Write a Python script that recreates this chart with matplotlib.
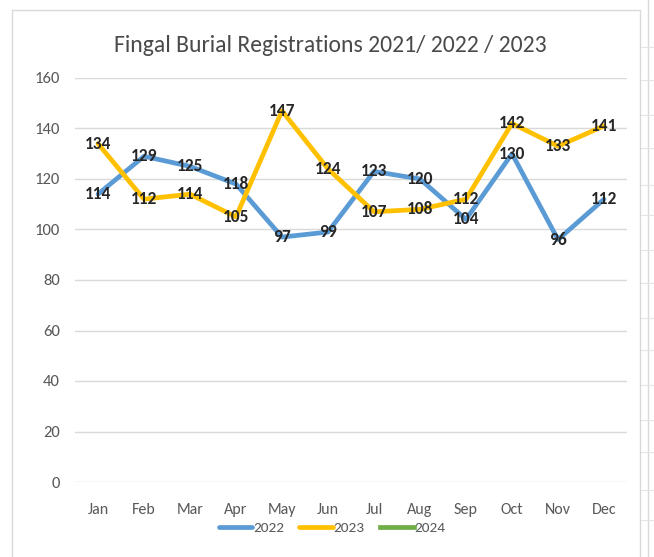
import matplotlib.pyplot as plt
from matplotlib.patches import Rectangle
from matplotlib.lines import Line2D

# ------------------ DATA ------------------

months = ['Jan', 'Feb', 'Mar', 'Apr', 'May', 'Jun', 'Jul', 'Aug', 'Sep', 'Oct', 'Nov', 'Dec']
reg_2022 = [114, 129, 125, 118, 97, 99, 123, 120, 104, 130, 96, 112]
reg_2023 = [134, 112, 114, 105, 147, 124, 107, 108, 112, 142, 133, 141]
reg_2024 = []
yticks = [0, 20, 40, 60, 80, 100, 120, 140, 160]

c2022 = '#5B9BD5'
c2023 = '#FFC000'
c2024 = '#70AD47'
grey = '#595959'

plt.rcParams['font.family'] = ['Carlito', 'DejaVu Sans']

fig = plt.figure(figsize=(6.54, 5.57), dpi=100)

# chart area border (excel style) and sheet gridlines on the right
fig.patches.append(Rectangle((12/654, -0.05), (640-12)/654, 1 - 10/557 + 0.05,
                             transform=fig.transFigure, fill=False,
                             edgecolor='#D9D9D9', lw=1))
fig.add_artist(Line2D([648/654, 648/654], [0, 1], transform=fig.transFigure,
                      color='#D9D9D9', lw=1))
for yy in [47, 80, 115, 148, 185, 215, 250, 283, 318, 350, 385, 420, 452, 490, 520]:
    fig.add_artist(Line2D([641/654, 654/654], [1 - yy/557, 1 - yy/557],
                          transform=fig.transFigure, color='#E4E4E4', lw=0.8))

ax = fig.add_axes([75/654, 1 - 482/557, (627-75)/654, (482-78)/557])
x = range(len(months))

ax.plot(x, reg_2022, color=c2022, lw=3.4, solid_capstyle='round', label='2022')
ax.plot(x, reg_2023, color=c2023, lw=3.4, solid_capstyle='round', label='2023')
ax.plot(range(len(reg_2024)), reg_2024, color=c2024, lw=3.4, label='2024')

for series in (reg_2022, reg_2023):
    for xi, v in zip(x, series):
        ax.text(xi, v, str(v), ha='center', va='center', fontsize=12.5,
                fontweight='bold', color='#262626')

ax.set_xlim(-0.5, 11.5)
ax.set_ylim(0, 160)
ax.set_yticks(yticks)
ax.set_xticks(list(x))
ax.set_xticklabels(months)
ax.grid(axis='y', color='#D9D9D9', lw=1)
ax.set_axisbelow(True)
for s in ax.spines.values():
    s.set_visible(False)
ax.tick_params(length=0, labelsize=11.5, labelcolor=grey)
ax.tick_params(axis='y', pad=11, labelsize=12)
ax.tick_params(axis='x', pad=15)

fig.text(330/654, 1 - 46/557, 'Fingal Burial Registrations 2021/ 2022 / 2023',
         ha='center', va='center', fontsize=17, color='#4A4A4A')

fig.legend(loc='center', bbox_to_anchor=(332/654, 1 - 528/557), ncol=3,
           frameon=False, fontsize=11, handlelength=2.2, handletextpad=0.05,
           columnspacing=1.0, labelcolor=grey)

fig.savefig('out.png', dpi=100)
